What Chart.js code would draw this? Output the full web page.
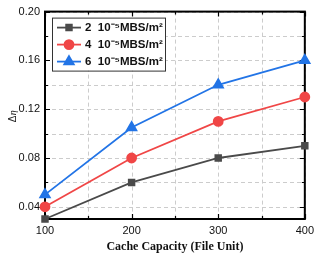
<!DOCTYPE html>
<html lang="en">
<head>
  <meta charset="UTF-8" />
  <title>Cache Capacity vs Delta eta</title>
  <script src="https://cdn.jsdelivr.net/npm/chart.js"></script>
  <style>
    html, body { margin: 0; padding: 0; background: #fff; }
    #wrap { width: 319px; height: 258px; position: relative; }
  </style>
</head>
<body>
  <div id="wrap"><canvas id="chart"></canvas></div>

  <script>
    // data
    const capacity = [100, 200, 300, 400];
    const seriesLabels = ['2  10\u207B\u2075MBS/m\u00B2', '4  10\u207B\u2075MBS/m\u00B2', '6  10\u207B\u2075MBS/m\u00B2'];
    const density2 = [0.03, 0.06, 0.08, 0.09];
    const density4 = [0.04, 0.08, 0.11, 0.13];
    const density6 = [0.05, 0.105, 0.14, 0.16];
    const xTicks = [100, 150, 200, 250, 300, 350, 400];
    const yTicks = [0.04, 0.06, 0.08, 0.10, 0.12, 0.14, 0.16, 0.18, 0.20];

    const colors = ['#4a4a4a', '#f04646', '#2274e6'];
    const shapes = ['rect', 'circle', 'triangle'];
    const sizes = [4, 4.5, 5.5];

    function makeSet(label, vals, i) {
      return {
        label: label,
        data: capacity.map((c, k) => ({ x: c, y: vals[k] })),
        borderColor: colors[i],
        backgroundColor: colors[i],
        borderWidth: 1.8,
        pointStyle: shapes[i],
        pointRadius: sizes[i],
        pointHoverRadius: sizes[i],
        clip: false
      };
    }

    // dashed grid, frame, inward ticks, legend box, y title
    const decor = {
      id: 'decor',
      beforeDatasetsDraw(chart) {
        const { ctx, chartArea: a, scales } = chart;
        ctx.save();
        ctx.strokeStyle = '#cccccc';
        ctx.lineWidth = 1;
        ctx.setLineDash([4, 3]);
        xTicks.forEach(v => {
          const px = Math.round(scales.x.getPixelForValue(v)) + 0.5;
          ctx.beginPath(); ctx.moveTo(px, a.top); ctx.lineTo(px, a.bottom); ctx.stroke();
        });
        yTicks.forEach(v => {
          const py = Math.round(scales.y.getPixelForValue(v)) + 0.5;
          ctx.beginPath(); ctx.moveTo(a.left, py); ctx.lineTo(a.right, py); ctx.stroke();
        });
        ctx.setLineDash([]);
        ctx.strokeStyle = '#000';
        ctx.lineWidth = 2;
        ctx.strokeRect(a.left, a.top, a.right - a.left, a.bottom - a.top);
        ctx.lineWidth = 1.2;
        xTicks.forEach((v, i) => {
          const px = Math.round(scales.x.getPixelForValue(v)) + 0.5;
          const len = i % 2 === 0 ? 5 : 3;
          ctx.beginPath();
          ctx.moveTo(px, a.bottom); ctx.lineTo(px, a.bottom - len);
          ctx.moveTo(px, a.top); ctx.lineTo(px, a.top + len);
          ctx.stroke();
        });
        yTicks.forEach((v, i) => {
          const py = Math.round(scales.y.getPixelForValue(v)) + 0.5;
          const len = i % 2 === 0 ? 5 : 3;
          ctx.beginPath();
          ctx.moveTo(a.left, py); ctx.lineTo(a.left + len, py);
          ctx.moveTo(a.right, py); ctx.lineTo(a.right - len, py);
          ctx.stroke();
        });
        ctx.restore();
      },
      afterDraw(chart) {
        const { ctx, chartArea: a } = chart;
        ctx.save();
        // legend
        const bx = a.left + 7, by = a.top + 6, bw = 113, bh = 53;
        ctx.fillStyle = '#fff';
        ctx.fillRect(bx, by, bw, bh);
        ctx.strokeStyle = '#333';
        ctx.lineWidth = 1;
        ctx.strokeRect(bx + 0.5, by + 0.5, bw, bh);
        chart.data.datasets.forEach((ds, i) => {
          const y = by + 10 + i * 17;
          ctx.strokeStyle = ds.borderColor;
          ctx.lineWidth = 1.8;
          ctx.beginPath();
          ctx.moveTo(bx + 5, y); ctx.lineTo(bx + 29, y);
          ctx.stroke();
          Chart.helpers.drawPoint(ctx, { pointStyle: ds.pointStyle, radius: ds.pointRadius, borderWidth: 1 }, bx + 17, y);
          ctx.fillStyle = ds.borderColor;
          ctx.fill();
          ctx.fillStyle = '#111';
          ctx.font = 'bold 11.5px "Liberation Sans", Arial, sans-serif';
          ctx.textBaseline = 'middle';
          ctx.fillText(ds.label, bx + 33, y + 0.5);
        });
        // y title
        ctx.translate(13, (a.top + a.bottom) / 2);
        ctx.rotate(-Math.PI / 2);
        ctx.fillStyle = '#222';
        ctx.textBaseline = 'middle';
        ctx.font = '10px "Liberation Sans", Arial, sans-serif';
        ctx.fillText('\u0394', -7, 0);
        ctx.font = 'italic 10px "Liberation Serif", serif';
        ctx.fillText('\u03B7', 0, 0);
        ctx.restore();
      }
    };

    new Chart(document.getElementById('chart'), {
      type: 'line',
      data: {
        datasets: [
          makeSet(seriesLabels[0], density2, 0),
          makeSet(seriesLabels[1], density4, 1),
          makeSet(seriesLabels[2], density6, 2)
        ]
      },
      options: {
        responsive: true,
        maintainAspectRatio: false,
        animation: false,
        layout: { padding: { top: 8, right: 12, left: 0, bottom: 0 } },
        plugins: { legend: { display: false }, tooltip: { enabled: false } },
        scales: {
          x: {
            type: 'linear',
            min: 100,
            max: 400,
            afterBuildTicks: s => { s.ticks = xTicks.map(v => ({ value: v })); },
            afterFit: s => { s.height = 39; },
            grid: { color: 'rgba(0,0,0,0)', drawTicks: false },
            border: { display: false },
            ticks: {
              padding: 5,
              color: '#111',
              maxRotation: 0,
              autoSkip: false,
              font: { family: '"Liberation Sans", Arial, sans-serif', size: 11 },
              callback: v => (v % 100 === 0 ? v : '')
            },
            title: {
              display: true,
              text: 'Cache Capacity (File Unit)',
              color: '#111',
              padding: { top: 4 },
              font: { family: '"Liberation Serif", "Times New Roman", serif', size: 12, weight: 'bold' }
            }
          },
          y: {
            min: 0.03,
            max: 0.2,
            afterBuildTicks: s => { s.ticks = yTicks.map(v => ({ value: v })); },
            afterFit: s => { s.width = 45; },
            grid: { color: 'rgba(0,0,0,0)', drawTicks: false },
            border: { display: false },
            ticks: {
              padding: 5,
              color: '#111',
              autoSkip: false,
              font: { family: '"Liberation Sans", Arial, sans-serif', size: 11 },
              callback: (v, i) => (i % 2 === 0 ? v.toFixed(2) : '')
            }
          }
        }
      },
      plugins: [decor]
    });
  </script>
</body>
</html>
